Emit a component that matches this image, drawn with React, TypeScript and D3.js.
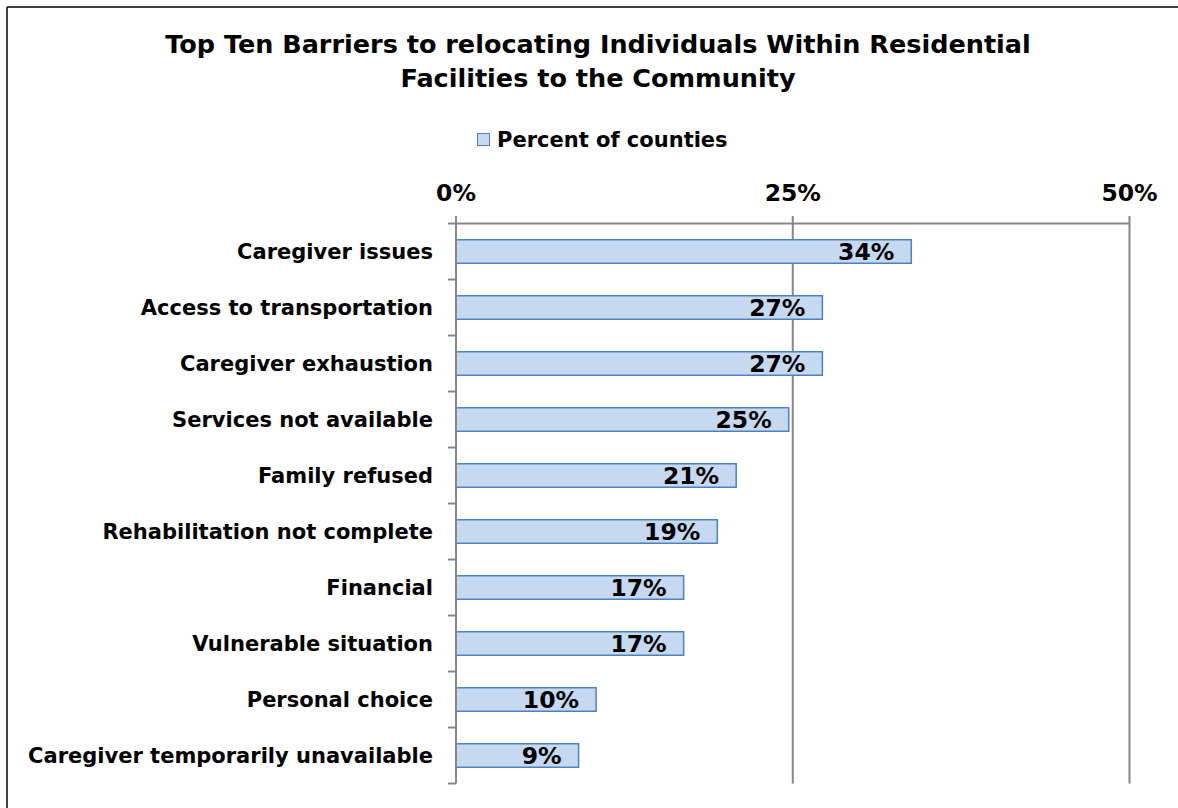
import React from "react";
import * as d3 from "d3";

const categories = [
  "Caregiver issues",
  "Access to transportation",
  "Caregiver exhaustion",
  "Services not available",
  "Family refused",
  "Rehabilitation not complete",
  "Financial",
  "Vulnerable situation",
  "Personal choice",
  "Caregiver temporarily unavailable",
];
const values = [33.8, 27.2, 27.2, 24.7, 20.8, 19.4, 16.9, 16.9, 10.4, 9.1];
const labels = ["34%", "27%", "27%", "25%", "21%", "19%", "17%", "17%", "10%", "9%"];
const xTicks = [0, 25, 50];
const titleLines = [
  "Top Ten Barriers to relocating Individuals Within Residential",
  "Facilities to the Community",
];
const legendLabel = "Percent of counties";

const W = 1178;
const H = 808;
const FONT = "'DejaVu Sans', Verdana, sans-serif";

export default function App() {
  const x = d3.scaleLinear().domain([0, 50]).range([456, 1129.5]);
  const y = d3
    .scaleBand<string>()
    .domain(categories)
    .range([223.5, 783.5])
    .paddingInner(0.58)
    .paddingOuter(0.29);
  const step = y.step();
  const top = 223.5;
  const bottom = 783.5;
  const axisColor = "#868686";
  const boundaries = d3.range(categories.length + 1).map((i) => top + i * step);

  return (
    <svg
      width={W}
      height={H}
      style={{ position: "absolute", left: 0, top: 0, background: "#fff" }}
      fontFamily={FONT}
    >
      <rect x={0} y={0} width={W} height={H} fill="#fff" />
      {/* outer border (top and left visible) */}
      <line x1={7} y1={7} x2={W} y2={7} stroke="#000" strokeWidth={1.5} />
      <line x1={7} y1={7} x2={7} y2={H} stroke="#000" strokeWidth={1.5} />

      {/* title */}
      {titleLines.map((t, i) => (
        <text
          key={i}
          x={598}
          y={53 + i * 34}
          textAnchor="middle"
          fontWeight="bold"
          fontSize={25.5}
          fill="#000"
        >
          {t}
        </text>
      ))}

      {/* legend */}
      <rect x={477.5} y={133.5} width={12} height={12} fill="#C6D9F1" stroke="#4F81BD" strokeWidth={1} />
      <text x={497} y={146.5} fontWeight="bold" fontSize={21} fill="#000">
        {legendLabel}
      </text>

      {/* gridlines & top axis */}
      {xTicks.map((t) => (
        <g key={t}>
          <line
            x1={x(t)}
            x2={x(t)}
            y1={216}
            y2={t === 0 ? top : bottom}
            stroke={axisColor}
            strokeWidth={2}
          />
          <text
            x={x(t)}
            y={201}
            textAnchor="middle"
            fontWeight="bold"
            fontSize={23.5}
            fill="#000"
          >
            {`${t}%`}
          </text>
        </g>
      ))}
      <line x1={x(0)} x2={x(50)} y1={top} y2={top} stroke={axisColor} strokeWidth={2} />

      {/* bars */}
      {categories.map((c, i) => {
        const y0 = y(c)!;
        const bw = y.bandwidth();
        return (
          <g key={c}>
            <rect
              x={x(0)}
              y={y0}
              width={x(values[i]) - x(0)}
              height={bw}
              fill="#C6D9F1"
              stroke="#4F81BD"
              strokeWidth={1.5}
            />
            <text
              x={x(values[i]) - 17}
              y={y0 + bw / 2 + 8.5}
              textAnchor="end"
              fontWeight="bold"
              fontSize={23.5}
              fill="#000"
            >
              {labels[i]}
            </text>
            <text
              x={433}
              y={y0 + bw / 2 + 7.5}
              textAnchor="end"
              fontWeight="bold"
              fontSize={21}
              fill="#000"
            >
              {c}
            </text>
          </g>
        );
      })}

      {/* left axis */}
      <line x1={x(0)} x2={x(0)} y1={top} y2={bottom} stroke={axisColor} strokeWidth={2} />
      {boundaries.map((b, i) => (
        <line key={i} x1={448} x2={x(0)} y1={b} y2={b} stroke={axisColor} strokeWidth={2} />
      ))}
    </svg>
  );
}
